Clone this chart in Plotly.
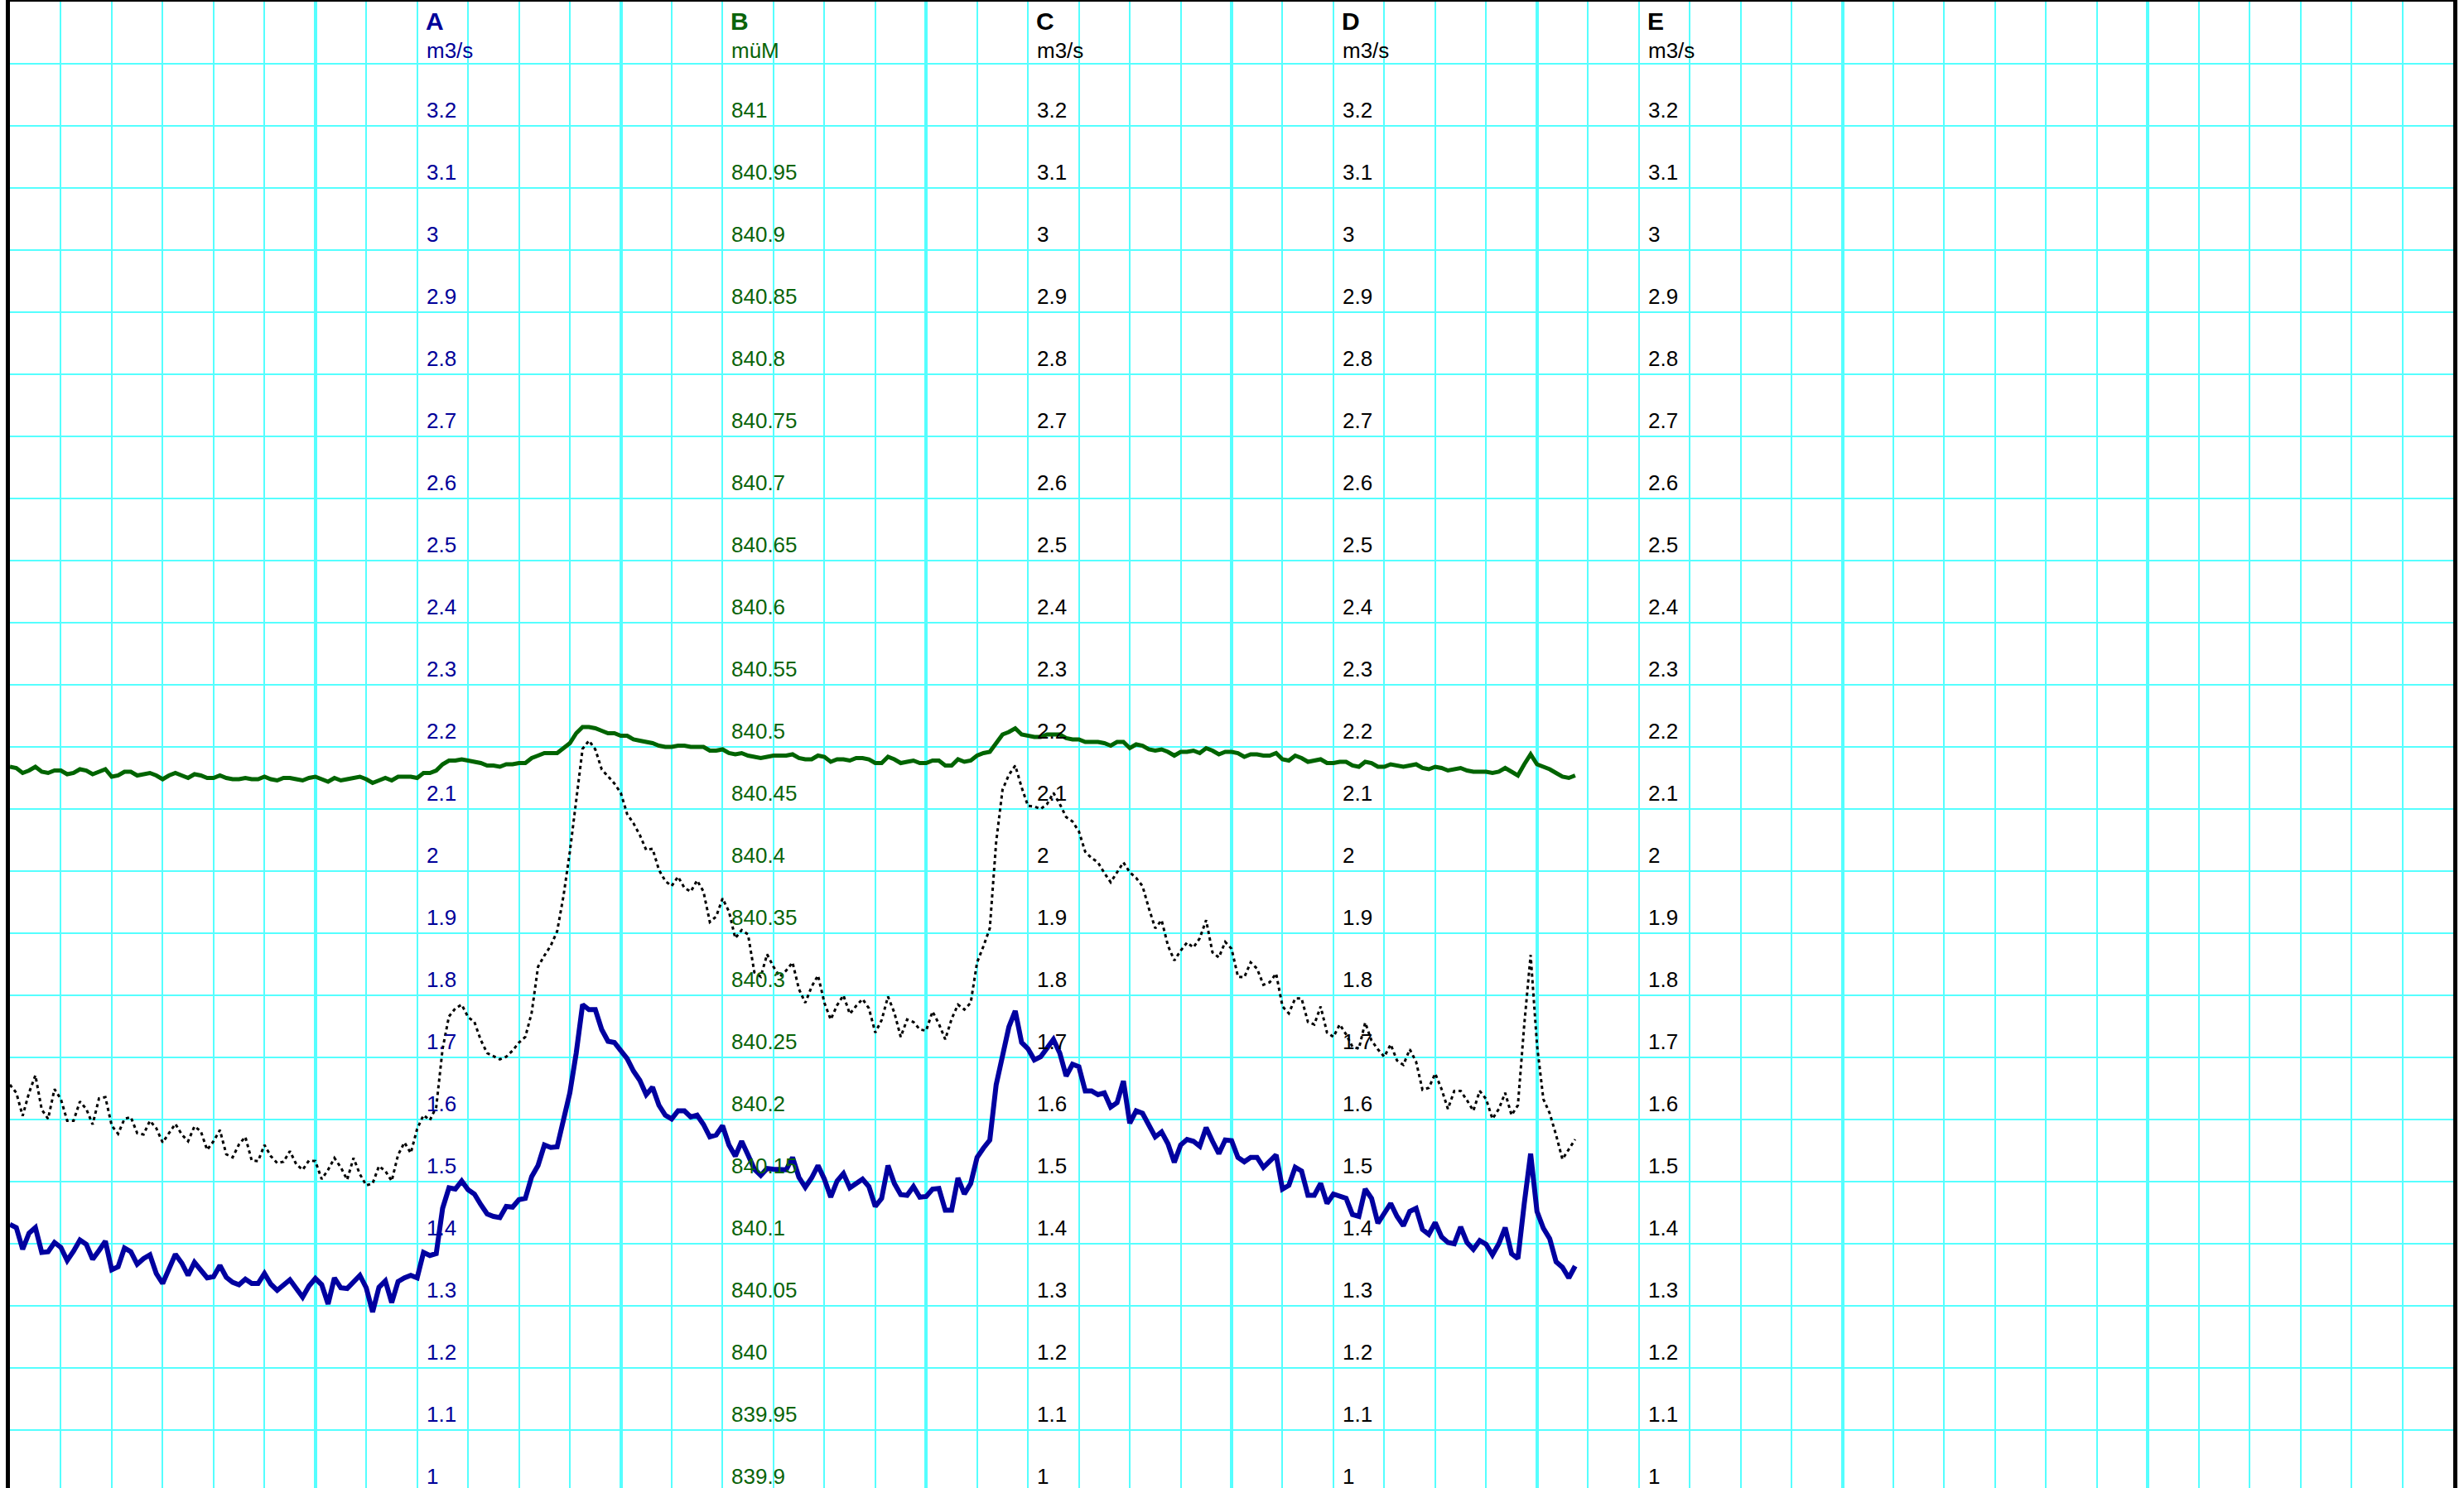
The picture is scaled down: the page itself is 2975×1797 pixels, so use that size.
import plotly.graph_objects as go

# ---------------- data (half-hourly samples) ----------------
# A: discharge, m3/s (thick blue line)
A_FLOW = [
    1.431, 1.426, 1.391, 1.417, 1.426, 1.386, 1.387, 1.402, 1.394, 1.373,
    1.388, 1.406, 1.399, 1.375, 1.389, 1.404, 1.358, 1.363, 1.393, 1.387,
    1.367, 1.376, 1.382, 1.352, 1.336, 1.362, 1.383, 1.369, 1.349, 1.370,
    1.358, 1.345, 1.347, 1.365, 1.346, 1.338, 1.334, 1.343, 1.336, 1.336,
    1.352, 1.335, 1.325, 1.334, 1.342, 1.328, 1.314, 1.332, 1.344, 1.334,
    1.303, 1.345, 1.329, 1.328, 1.339, 1.349, 1.329, 1.290, 1.330, 1.340,
    1.305, 1.339, 1.345, 1.349, 1.345, 1.386, 1.381, 1.384, 1.457, 1.490,
    1.488, 1.501, 1.487, 1.480, 1.463, 1.448, 1.444, 1.442, 1.460, 1.459,
    1.471, 1.473, 1.508, 1.526, 1.559, 1.555, 1.556, 1.603, 1.643, 1.707,
    1.785, 1.777, 1.777, 1.745, 1.726, 1.724, 1.711, 1.698, 1.678, 1.663,
    1.640, 1.652, 1.623, 1.607, 1.601, 1.614, 1.614, 1.604, 1.607, 1.592,
    1.572, 1.575, 1.590, 1.559, 1.541, 1.565, 1.543, 1.520, 1.510, 1.521,
    1.520, 1.519, 1.519, 1.539, 1.507, 1.491, 1.506, 1.526, 1.504, 1.475,
    1.501, 1.513, 1.490, 1.497, 1.504, 1.492, 1.460, 1.473, 1.526, 1.497,
    1.479, 1.478, 1.492, 1.475, 1.476, 1.488, 1.489, 1.454, 1.454, 1.506,
    1.480, 1.497, 1.539, 1.554, 1.567, 1.656, 1.707, 1.749, 1.775, 1.724,
    1.714, 1.696, 1.701, 1.714, 1.729, 1.707, 1.670, 1.689, 1.685, 1.646,
    1.646, 1.640, 1.643, 1.620, 1.627, 1.662, 1.594, 1.614, 1.610, 1.591,
    1.572, 1.580, 1.561, 1.531, 1.559, 1.568, 1.565, 1.557, 1.587, 1.565,
    1.545, 1.567, 1.566, 1.539, 1.532, 1.539, 1.539, 1.523, 1.534, 1.543,
    1.488, 1.494, 1.523, 1.517, 1.478, 1.478, 1.497, 1.465, 1.480, 1.476,
    1.473, 1.447, 1.444, 1.488, 1.473, 1.433, 1.449, 1.465, 1.444, 1.429,
    1.452, 1.457, 1.423, 1.415, 1.434, 1.411, 1.402, 1.400, 1.427, 1.402,
    1.391, 1.405, 1.399, 1.382, 1.400, 1.426, 1.384, 1.376, 1.465, 1.545,
    1.452, 1.425, 1.408, 1.371, 1.362, 1.345, 1.364,
]

# B: water level, müM (green line)
B_LEVEL = [
    840.484, 840.483, 840.479, 840.481, 840.484, 840.480, 840.479, 840.481, 840.481, 840.478,
    840.479, 840.482, 840.481, 840.478, 840.480, 840.482, 840.476, 840.477, 840.480, 840.480,
    840.477, 840.478, 840.479, 840.477, 840.474, 840.477, 840.479, 840.477, 840.475, 840.478,
    840.477, 840.475, 840.475, 840.477, 840.475, 840.474, 840.474, 840.475, 840.474, 840.474,
    840.476, 840.474, 840.473, 840.475, 840.475, 840.474, 840.473, 840.475, 840.476, 840.474,
    840.472, 840.475, 840.473, 840.474, 840.475, 840.476, 840.474, 840.471, 840.473, 840.475,
    840.473, 840.476, 840.476, 840.476, 840.475, 840.479, 840.479, 840.481, 840.486, 840.489,
    840.489, 840.490, 840.489, 840.488, 840.487, 840.485, 840.485, 840.484, 840.486, 840.486,
    840.487, 840.487, 840.491, 840.493, 840.495, 840.495, 840.495, 840.499, 840.503, 840.511,
    840.516, 840.516, 840.515, 840.513, 840.511, 840.511, 840.509, 840.509, 840.506, 840.505,
    840.504, 840.503, 840.501, 840.500, 840.500, 840.501, 840.501, 840.500, 840.500, 840.500,
    840.497, 840.497, 840.498, 840.495, 840.494, 840.495, 840.493, 840.492, 840.491, 840.492,
    840.493, 840.493, 840.493, 840.494, 840.491, 840.490, 840.490, 840.493, 840.492, 840.488,
    840.490, 840.490, 840.489, 840.491, 840.491, 840.490, 840.487, 840.487, 840.492, 840.490,
    840.487, 840.488, 840.489, 840.487, 840.487, 840.489, 840.489, 840.485, 840.485, 840.490,
    840.488, 840.489, 840.493, 840.495, 840.496, 840.503, 840.510, 840.512, 840.515, 840.510,
    840.509, 840.508, 840.508, 840.510, 840.510, 840.510, 840.507, 840.506, 840.506, 840.504,
    840.504, 840.504, 840.503, 840.501, 840.504, 840.504, 840.499, 840.502, 840.501, 840.498,
    840.497, 840.498, 840.496, 840.493, 840.496, 840.496, 840.497, 840.495, 840.499, 840.497,
    840.494, 840.496, 840.496, 840.495, 840.492, 840.494, 840.494, 840.493, 840.493, 840.495,
    840.490, 840.489, 840.493, 840.491, 840.488, 840.489, 840.490, 840.487, 840.487, 840.488,
    840.488, 840.485, 840.484, 840.488, 840.487, 840.484, 840.484, 840.486, 840.485, 840.484,
    840.485, 840.486, 840.483, 840.482, 840.484, 840.483, 840.481, 840.482, 840.483, 840.481,
    840.480, 840.480, 840.480, 840.479, 840.480, 840.483, 840.480, 840.477, 840.486, 840.494,
    840.486, 840.484, 840.482, 840.479, 840.476, 840.475, 840.477,
]

# C: discharge, m3/s (dotted black line)
C_FLOW = [
    1.656, 1.643, 1.606, 1.643, 1.671, 1.616, 1.601, 1.649, 1.633, 1.598,
    1.598, 1.629, 1.617, 1.592, 1.634, 1.636, 1.590, 1.577, 1.601, 1.604,
    1.578, 1.576, 1.598, 1.586, 1.563, 1.578, 1.593, 1.576, 1.565, 1.589,
    1.581, 1.551, 1.565, 1.583, 1.544, 1.539, 1.560, 1.572, 1.534, 1.533,
    1.559, 1.541, 1.530, 1.532, 1.549, 1.528, 1.519, 1.534, 1.533, 1.504,
    1.519, 1.538, 1.523, 1.503, 1.538, 1.512, 1.494, 1.497, 1.525, 1.517,
    1.501, 1.543, 1.563, 1.546, 1.585, 1.607, 1.599, 1.620, 1.714, 1.766,
    1.779, 1.785, 1.765, 1.757, 1.728, 1.707, 1.702, 1.697, 1.701, 1.711,
    1.724, 1.733, 1.772, 1.846, 1.864, 1.880, 1.903, 1.960, 2.031, 2.118,
    2.197, 2.210, 2.196, 2.164, 2.153, 2.141, 2.126, 2.092, 2.077, 2.058,
    2.034, 2.036, 2.002, 1.984, 1.976, 1.991, 1.973, 1.967, 1.985, 1.967,
    1.918, 1.927, 1.956, 1.935, 1.892, 1.905, 1.898, 1.837, 1.830, 1.866,
    1.846, 1.830, 1.840, 1.853, 1.810, 1.788, 1.814, 1.832, 1.788, 1.761,
    1.784, 1.800, 1.770, 1.783, 1.794, 1.779, 1.740, 1.760, 1.798, 1.772,
    1.733, 1.761, 1.757, 1.745, 1.743, 1.774, 1.754, 1.729, 1.762, 1.785,
    1.777, 1.788, 1.853, 1.879, 1.908, 2.047, 2.131, 2.155, 2.170, 2.135,
    2.105, 2.104, 2.100, 2.108, 2.126, 2.108, 2.087, 2.080, 2.064, 2.031,
    2.021, 2.014, 1.997, 1.982, 1.998, 2.014, 1.998, 1.989, 1.976, 1.940,
    1.908, 1.921, 1.880, 1.856, 1.872, 1.885, 1.877, 1.892, 1.921, 1.869,
    1.861, 1.886, 1.875, 1.830, 1.829, 1.853, 1.843, 1.817, 1.821, 1.835,
    1.782, 1.771, 1.795, 1.795, 1.757, 1.753, 1.782, 1.740, 1.733, 1.753,
    1.737, 1.717, 1.714, 1.756, 1.727, 1.713, 1.701, 1.721, 1.695, 1.688,
    1.713, 1.693, 1.648, 1.651, 1.674, 1.649, 1.617, 1.646, 1.646, 1.631,
    1.614, 1.646, 1.633, 1.601, 1.617, 1.643, 1.607, 1.623, 1.753, 1.865,
    1.720, 1.633, 1.610, 1.575, 1.536, 1.552, 1.568,
]

STEP_HOURS = 0.5
HOURS = [i * STEP_HOURS for i in range(len(A_FLOW))]  # time index in hours

# axis tick values / labels
FLOW_TICKS = [1.0, 1.1, 1.2, 1.3, 1.4, 1.5, 1.6, 1.7, 1.8, 1.9, 2.0, 2.1,
              2.2, 2.3, 2.4, 2.5, 2.6, 2.7, 2.8, 2.9, 3.0, 3.1, 3.2]
FLOW_LABELS = ["1", "1.1", "1.2", "1.3", "1.4", "1.5", "1.6", "1.7", "1.8", "1.9", "2", "2.1",
               "2.2", "2.3", "2.4", "2.5", "2.6", "2.7", "2.8", "2.9", "3", "3.1", "3.2"]
LEVEL_TICKS = [839.9, 839.95, 840.0, 840.05, 840.1, 840.15, 840.2, 840.25, 840.3, 840.35,
               840.4, 840.45, 840.5, 840.55, 840.6, 840.65, 840.7, 840.75, 840.8, 840.85,
               840.9, 840.95, 841.0]
LEVEL_LABELS = ["839.9", "839.95", "840", "840.05", "840.1", "840.15", "840.2", "840.25",
                "840.3", "840.35", "840.4", "840.45", "840.5", "840.55", "840.6", "840.65",
                "840.7", "840.75", "840.8", "840.85", "840.9", "840.95", "841"]

SCALE_NAMES = ["A", "B", "C", "D", "E"]
SCALE_UNITS = ["m3/s", "müM", "m3/s", "m3/s", "m3/s"]
SCALE_HOURS = [32, 56, 80, 104, 128]          # time position of each scale column
NOW_HOUR = 96                                  # vertical marker line
X_RANGE = [0, 192]                              # 8 days
FLOW_RANGE = [1.00667, 3.4]
LEVEL_RANGE = [839.90333, 841.1]

# ---------------- styles ----------------
CYAN = "#55FFFF"
BLUE = "#0000A0"
BLUE_TXT = "#000099"
GREEN = "#006400"
GREEN_TXT = "#0A640A"
FONT = "Liberation Sans, Arial, sans-serif"

fig = go.Figure()
fig.add_trace(go.Scatter(x=HOURS, y=C_FLOW, mode="lines", yaxis="y",
                         line=dict(color="black", width=3, dash="4px,4px"),
                         hoverinfo="skip"))
fig.add_trace(go.Scatter(x=HOURS, y=B_LEVEL, mode="lines", yaxis="y2",
                         line=dict(color=GREEN, width=5), hoverinfo="skip"))
fig.add_trace(go.Scatter(x=HOURS, y=A_FLOW, mode="lines", yaxis="y",
                         line=dict(color=BLUE, width=6), hoverinfo="skip"))

fig.add_shape(type="line", xref="x", yref="paper", x0=NOW_HOUR, x1=NOW_HOUR, y0=0, y1=1,
              line=dict(color="#4A4A4A", width=3), layer="between")

annotations = []
col_colors = [BLUE_TXT, GREEN_TXT, "black", "black", "black"]
for i, name in enumerate(SCALE_NAMES):
    hx = SCALE_HOURS[i]
    color = col_colors[i]
    if name == "B":
        yref, ticks, labels, rise = "y2", LEVEL_TICKS, LEVEL_LABELS, 0.013
    else:
        yref, ticks, labels, rise = "y", FLOW_TICKS, FLOW_LABELS, 0.026
    for tv, tl in zip(ticks, labels):
        annotations.append(dict(x=hx, y=tv + rise, xref="x", yref=yref, text=tl,
                                showarrow=False, xanchor="left", yanchor="middle",
                                xshift=9, font=dict(family=FONT, size=26, color=color)))
    # unit and name headers
    annotations.append(dict(x=hx, y=3.322, xref="x", yref="y", text=SCALE_UNITS[i],
                            showarrow=False, xanchor="left", yanchor="middle", xshift=9,
                            font=dict(family=FONT, size=26, color=color)))
    annotations.append(dict(x=hx, y=3.369, xref="x", yref="y", text="<b>" + name + "</b>",
                            showarrow=False, xanchor="left", yanchor="middle", xshift=8,
                            font=dict(family=FONT, size=30, color=color)))

fig.update_layout(
    width=2975, height=1797,
    margin=dict(l=12, r=13, t=2, b=0, pad=0),
    paper_bgcolor="white", plot_bgcolor="white",
    showlegend=False,
    font=dict(family=FONT),
    annotations=annotations,
    xaxis=dict(range=X_RANGE, tick0=0, dtick=24, showgrid=True, gridcolor=CYAN, gridwidth=3.7,
               showticklabels=False, ticks="", zeroline=False,
               showline=True, linecolor="black", linewidth=4, side="top", mirror=False,
               minor=dict(tick0=0, dtick=4, showgrid=True, gridcolor=CYAN, gridwidth=1.8, ticks="")),
    yaxis=dict(range=FLOW_RANGE, tick0=1.0, dtick=0.1, showgrid=True, gridcolor=CYAN, gridwidth=2,
               showticklabels=False, ticks="", zeroline=False,
               showline=True, mirror=True, linecolor="black", linewidth=5),
    yaxis2=dict(range=LEVEL_RANGE, overlaying="y", showgrid=False, showticklabels=False,
                ticks="", zeroline=False, showline=False),
)

fig.write_html("out.html", config={"displayModeBar": False},
               post_script="document.body.style.margin='0';document.body.style.overflow='hidden';")
